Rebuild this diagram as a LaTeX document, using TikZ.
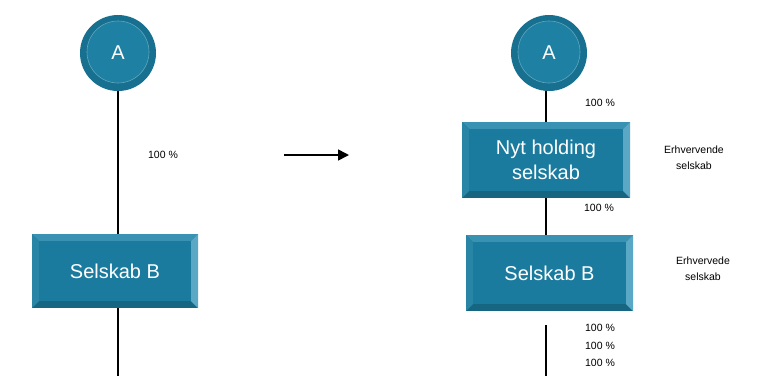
\documentclass[tikz,border=0pt]{standalone}
\usepackage{fontspec}
\usetikzlibrary{arrows.meta}
\setmainfont{Liberation Sans}
\definecolor{bxmain}{HTML}{1B7B9E}
\definecolor{bxtop}{HTML}{3A92B2}
\definecolor{bxleft}{HTML}{2885A6}
\definecolor{bxright}{HTML}{5BA8C6}
\definecolor{bxbot}{HTML}{166682}
\definecolor{crout}{HTML}{17708F}
\definecolor{crin}{HTML}{1E80A2}
\tikzset{
  lbl/.style={font=\fontsize{10.5}{12}\selectfont, inner sep=0pt},
  sidelbl/.style={font=\fontsize{10.5}{16}\selectfont, align=center, inner sep=0pt},
  boxtxt/.style={text=white, font=\fontsize{20}{25}\selectfont, align=center, inner sep=0pt},
  conn/.style={line width=1.6pt, black},
}
\newcommand{\bevelbox}[6]{% name, x1, y1, x2, y2, text
  \fill[bxbot] (#2,#3) rectangle (#4,#5);
  \fill[bxtop] (#2,#3) -- (#4,#3) -- (#4-7,#3+7) -- (#2+7,#3+7) -- cycle;
  \fill[bxleft] (#2,#3) -- (#2+7,#3+7) -- (#2+7,#5-7) -- (#2,#5) -- cycle;
  \fill[bxright] (#4,#3) -- (#4,#5) -- (#4-7,#5-7) -- (#4-7,#3+7) -- cycle;
  \fill[bxmain] (#2+7,#3+7) rectangle (#4-7,#5-7);
  \node[boxtxt] (#1) at ({(#2+#4)/2},{(#3+#5)/2}) {#6};
}
\newcommand{\bevelcircle}[4]{% name, x, y, text
  \fill[crout] (#2,#3) circle (38);
  \fill[crin] (#2,#3-1) circle (31);
  \draw[white!30!crin, line width=0.6pt] (#2,#3-1) circle (31);
  \node[boxtxt] (#1) at (#2,#3) {#4};
}
\begin{document}
\begin{tikzpicture}[x=1pt,y=-1pt]
\useasboundingbox (0,0) rectangle (757,376);
% left side
\draw[conn] (118,90) -- (118,236);
\draw[conn] (118,306) -- (118,376);
\bevelcircle{aL}{118}{53}{A}
\bevelbox{bL}{32}{234}{198}{308}{Selskab B}
\node[lbl] (pL) at (163,155) {100 \%};
% arrow
\coordinate (arS) at (284,155);
\coordinate (arE) at (349,155);
\draw[line width=1.6pt, -{Triangle[length=11pt,width=11pt]}] (arS) -- (arE);
% right side
\draw[conn] (546,90) -- (546,124);
\draw[conn] (546,196) -- (546,237);
\draw[conn] (546,325) -- (546,376);
\bevelcircle{aR}{549}{53}{A}
\bevelbox{hR}{462}{122}{630}{198}{Nyt holding\\selskab}
\bevelbox{bR}{466}{235}{633}{311}{Selskab B}
\node[lbl] (p1) at (600,103) {100 \%};
\node[lbl] (p2) at (599,208) {100 \%};
\node[lbl] (p3) at (600,328) {100 \%};
\node[lbl] (p4) at (600,346) {100 \%};
\node[lbl] (p5) at (600,363) {100 \%};
\node[sidelbl] (e1) at (694,158) {Erhvervende\\selskab};
\node[sidelbl] (e2) at (703,269) {Erhvervede\\selskab};
\end{tikzpicture}
\end{document}
